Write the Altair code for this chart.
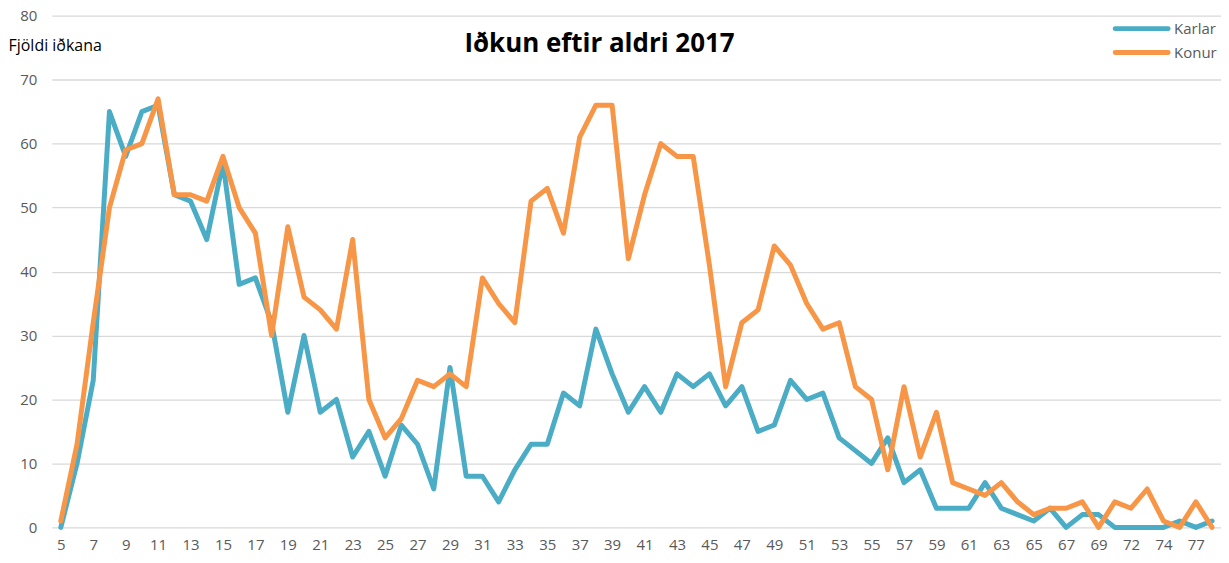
import altair as alt
import pandas as pd

ages = [str(a) for a in range(5, 70)] + ["70", "72", "73", "74", "75", "77", "78"]

karlar = [0, 10, 23, 65, 58, 65, 66, 52, 51, 45,
          57, 38, 39, 32, 18, 30, 18, 20, 11, 15,
          8, 16, 13, 6, 25, 8, 8, 4, 9, 13,
          13, 21, 19, 31, 24, 18, 22, 18, 24, 22,
          24, 19, 22, 15, 16, 23, 20, 21, 14, 12,
          10, 14, 7, 9, 3, 3, 3, 7, 3, 2,
          1, 3, 0, 2, 2, 0, 0, 0, 0, 1,
          0, 1]

konur = [1, 13, 32, 50, 59, 60, 67, 52, 52, 51,
         58, 50, 46, 30, 47, 36, 34, 31, 45, 20,
         14, 17, 23, 22, 24, 22, 39, 35, 32, 51,
         53, 46, 61, 66, 66, 42, 52, 60, 58, 58,
         41, 22, 32, 34, 44, 41, 35, 31, 32, 22,
         20, 9, 22, 11, 18, 7, 6, 5, 7, 4,
         2, 3, 3, 4, 0, 4, 3, 6, 1, 0,
         4, 0]

series_names = ["Karlar", "Konur"]
series_colors = ["#4BACC6", "#F79646"]
tick_labels = ages[::2]
y_ticks = list(range(0, 81, 10))

rows = []
for name, vals in zip(series_names, [karlar, konur]):
    for a, v in zip(ages, vals):
        rows.append({"aldur": a, "fjoldi": v, "kyn": name})
df = pd.DataFrame(rows)
legend_df = pd.DataFrame({"kyn": series_names})

font = "Open Sans"
label_color = "#595959"
color_scale = alt.Scale(domain=series_names, range=series_colors)

lines = (
    alt.Chart(df)
    .mark_line(strokeWidth=5, strokeJoin="round", strokeCap="round")
    .encode(
        x=alt.X(
            "aldur:O",
            sort=ages,
            scale=alt.Scale(type="point", padding=0.55),
            axis=alt.Axis(
                title=None,
                values=tick_labels,
                labelAngle=0,
                ticks=False,
                domain=False,
                grid=False,
                labelFont=font,
                labelFontSize=15,
                labelColor=label_color,
                labelPadding=10,
            ),
        ),
        y=alt.Y(
            "fjoldi:Q",
            scale=alt.Scale(domain=[0, 80], nice=False),
            axis=alt.Axis(
                values=y_ticks,
                title="Fjöldi iðkana",
                titleAngle=0,
                titleAlign="left",
                titleBaseline="middle",
                titleX=-44,
                titleY=30,
                titleFont=font,
                titleFontSize=16,
                titleFontWeight="normal",
                titleColor="#000000",
                ticks=False,
                domain=False,
                grid=True,
                gridColor="#D9D9D9",
                gridWidth=1.3,
                labelFont=font,
                labelFontSize=15,
                labelColor=label_color,
                labelPadding=15,
            ),
        ),
        color=alt.Color("kyn:N", scale=color_scale, legend=None),
    )
)

legend_y = alt.Y(
    "kyn:N",
    sort=series_names,
    scale=alt.Scale(type="point", domain=series_names, range=[13, 37], padding=0),
    axis=None,
)

legend_lines = (
    alt.Chart(legend_df)
    .mark_rule(strokeWidth=5, strokeCap="round")
    .encode(
        x=alt.value(1066),
        x2=alt.value(1119),
        y=legend_y,
        color=alt.Color("kyn:N", scale=color_scale, legend=None),
    )
)

legend_text = (
    alt.Chart(legend_df)
    .mark_text(align="left", baseline="middle", font=font, fontSize=15, color=label_color)
    .encode(
        x=alt.value(1125),
        y=legend_y,
        text="kyn:N",
    )
)

chart = (
    alt.layer(lines, legend_lines, legend_text)
    .resolve_scale(y="independent")
    .properties(
        width=1172,
        height=513,
        title=alt.TitleParams(
            "Iðkun eftir aldri 2017",
            font=font,
            fontSize=26,
            fontWeight="bold",
            color="#000000",
            anchor="middle",
            offset=0,
            dx=-37,
            dy=48,
        ),
        autosize=alt.AutoSizeParams(type="none"),
        padding={"left": 44, "top": 7, "right": 0, "bottom": 28},
    )
    .configure_view(stroke=None)
)

chart.save("out.html", embed_options={"renderer": "svg", "actions": False})
